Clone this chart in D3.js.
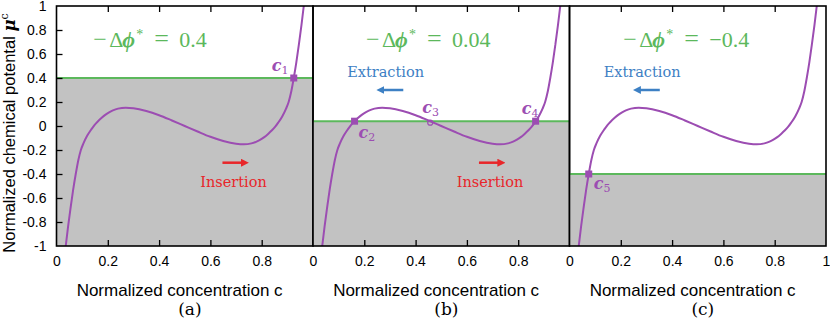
<!DOCTYPE html>
<html>
<head>
<meta charset="utf-8">
<script src="https://cdn.jsdelivr.net/npm/d3@7"></script>
<style>
  html, body { margin: 0; padding: 0; background: #fff; }
  svg { display: block; }
</style>
</head>
<body>
<svg id="chart" width="830" height="323"></svg>
<script>
// ---------------- data ----------------
const curveC  = [0.028, 0.036, 0.045, 0.055, 0.065, 0.075, 0.085, 0.095, 0.105, 0.12, 0.135, 0.148, 0.16, 0.175, 0.19, 0.205, 0.22, 0.24, 0.27, 0.30, 0.35, 0.40, 0.45, 0.50,
                 0.55, 0.60, 0.65, 0.70, 0.73, 0.76, 0.78, 0.795, 0.81, 0.825, 0.84, 0.852, 0.865, 0.88, 0.895, 0.905, 0.915, 0.925, 0.935, 0.945, 0.955, 0.964, 0.972];
const curveMu = [-1.16, -1.00, -0.84, -0.68, -0.53, -0.40, -0.285, -0.20, -0.145, -0.08, -0.03, 0.008, 0.036, 0.066, 0.093, 0.114, 0.13, 0.145, 0.153, 0.148, 0.125, 0.09, 0.046, 0.0,
                 -0.046, -0.09, -0.125, -0.148, -0.153, -0.145, -0.13, -0.114, -0.093, -0.066, -0.036, -0.008, 0.03, 0.08, 0.145, 0.20, 0.285, 0.40, 0.53, 0.68, 0.84, 1.00, 1.16];
const panelLabels = ["(a)", "(b)", "(c)"];
const potentials = [0.4, 0.04, -0.4];
const potentialTexts = ["0.4", "0.04", "\u22120.4"];
const pointNames = [["1"], ["2", "3", "4"], ["5"]];
const pointC = [[0.925], [0.162, 0.457, 0.868], [0.075]];
const pointOpen = [[false], [false, true, false], [false]];
const showInsertion = [true, true, false];
const showExtraction = [false, true, true];
const xTicks = [0, 0.2, 0.4, 0.6, 0.8];
const xTicksLast = [0, 0.2, 0.4, 0.6, 0.8, 1];
const yTicks = [-1, -0.8, -0.6, -0.4, -0.2, 0, 0.2, 0.4, 0.6, 0.8, 1];

// ---------------- layout ----------------
const svg = d3.select("#chart");
const lefts = [56.5, 313, 569.5];
const pw = 256.5;
const yTop = 6, yBottom = 246;
const y = d3.scaleLinear().domain([-1, 1]).range([yBottom, yTop]);
const purple = "#9c4db2", green = "#5cb85c", gray = "#c2c2c2", blue = "#3d80c4", red = "#e8262a";
const sans = "'Liberation Sans', Arial, sans-serif";
const serif = "'DejaVu Serif', 'Liberation Serif', serif";
const serif2 = "'Liberation Serif', 'DejaVu Serif', serif";
const annX = [0.143, 0.207, 0.21];

const defs = svg.append("defs");
function arrowMarker(id, color) {
  defs.append("marker").attr("id", id).attr("viewBox", "0 0 10 10")
    .attr("refX", 2).attr("refY", 5).attr("markerWidth", 3.2).attr("markerHeight", 3.2)
    .attr("orient", "auto")
    .append("path").attr("d", "M0,0 L10,5 L0,10 Z").attr("fill", color);
}
arrowMarker("arrRed", red);
arrowMarker("arrBlue", blue);

const curveData = curveC.map((c, i) => [c, curveMu[i]]);

lefts.forEach((L, p) => {
  const x = d3.scaleLinear().domain([0, 1]).range([L, L + pw]);
  const g = svg.append("g");
  const clipId = "clip" + p;
  defs.append("clipPath").attr("id", clipId)
    .append("rect").attr("x", x(0)).attr("y", yTop).attr("width", pw).attr("height", yBottom - yTop);

  g.append("rect")
    .attr("x", x(0)).attr("y", y(potentials[p]))
    .attr("width", pw).attr("height", y(-1) - y(potentials[p]))
    .attr("fill", gray);

  g.append("line")
    .attr("x1", x(0)).attr("x2", x(1))
    .attr("y1", y(potentials[p])).attr("y2", y(potentials[p]))
    .attr("stroke", green).attr("stroke-width", 2);

  const line = d3.line().x(d => x(d[0])).y(d => y(d[1])).curve(d3.curveMonotoneX);
  g.append("path").datum(curveData)
    .attr("clip-path", `url(#${clipId})`)
    .attr("d", line)
    .attr("fill", "none").attr("stroke", purple).attr("stroke-width", 2);

  const tickIn = [0.2, 0.4, 0.6, 0.8];
  g.append("g").attr("transform", `translate(0,${yBottom})`)
    .call(d3.axisBottom(x).tickValues(tickIn).tickSize(-6).tickFormat(""))
    .call(s => s.select(".domain").remove())
    .selectAll("line").attr("stroke", "#000").attr("stroke-width", 1.3);
  g.append("g").attr("transform", `translate(0,${yTop})`)
    .call(d3.axisTop(x).tickValues(tickIn).tickSize(-6).tickFormat(""))
    .call(s => s.select(".domain").remove())
    .selectAll("line").attr("stroke", "#000").attr("stroke-width", 1.3);

  const xl = g.append("g").attr("transform", `translate(0,${yBottom})`)
    .call(d3.axisBottom(x).tickValues(p === 2 ? xTicksLast : xTicks).tickSize(0).tickPadding(10)
      .tickFormat(d => String(+d.toFixed(1))));
  xl.select(".domain").remove();
  xl.selectAll("text").attr("font-family", sans).attr("font-size", 14).attr("fill", "#000");

  g.append("text").attr("x", x(0.48)).attr("y", 296)
    .attr("text-anchor", "middle").attr("font-family", sans).attr("font-size", 17)
    .text("Normalized concentration c");
  g.append("text").attr("x", x(0.52)).attr("y", 315)
    .attr("text-anchor", "middle").attr("font-family", serif).attr("font-size", 17)
    .text(panelLabels[p]);

  g.append("rect").attr("x", x(0)).attr("y", yTop).attr("width", pw).attr("height", yBottom - yTop)
    .attr("fill", "none").attr("stroke", "#000").attr("stroke-width", 1.6);

  // annotation −Δφ* = value, pieces placed like typeset math
  const ax = x(annX[p]);
  const ann = g.append("text").attr("y", 47)
    .attr("font-family", serif2).attr("font-size", 22).attr("fill", green);
  ann.append("tspan").attr("x", ax).attr("font-size", 24).text("\u2212");
  ann.append("tspan").attr("x", ax + 16).text("\u0394");
  ann.append("tspan").attr("x", ax + 29).attr("font-style", "italic").attr("font-weight", "bold").text("\u03d5");
  ann.append("tspan").attr("x", ax + 43).attr("dy", -8).attr("font-size", 14).text("*");
  ann.append("tspan").attr("x", ax + 61).attr("dy", 8).attr("font-size", 26).text("=");
  ann.append("tspan").attr("x", ax + 86).text(potentialTexts[p]);

  if (showInsertion[p]) {
    g.append("line").attr("x1", x(0.647)).attr("x2", x(0.725))
      .attr("y1", 162.7).attr("y2", 162.7)
      .attr("stroke", red).attr("stroke-width", 2.5).attr("marker-end", "url(#arrRed)");
    g.append("text").attr("x", x(0.69)).attr("y", 187).attr("text-anchor", "middle")
      .attr("font-family", serif).attr("font-size", 14.5).attr("fill", red).text("Insertion");
  }
  if (showExtraction[p]) {
    g.append("line").attr("x1", x(0.352)).attr("x2", x(0.272))
      .attr("y1", 90).attr("y2", 90)
      .attr("stroke", blue).attr("stroke-width", 2.5).attr("marker-end", "url(#arrBlue)");
    g.append("text").attr("x", x(0.283)).attr("y", 77).attr("text-anchor", "middle")
      .attr("font-family", serif).attr("font-size", 14.5).attr("fill", blue).text("Extraction");
  }

  pointC[p].forEach((c, i) => {
    const px = x(c), py = y(potentials[p]);
    if (pointOpen[p][i]) {
      g.append("circle").attr("cx", px).attr("cy", py + 1.5).attr("r", 2.5)
        .attr("fill", "none").attr("stroke", purple).attr("stroke-width", 1.2);
    } else {
      g.append("rect").attr("x", px - 3.5).attr("y", py - 3.5).attr("width", 7).attr("height", 7)
        .attr("fill", purple);
    }
    const name = pointNames[p][i];
    let tx, ty;
    if (name === "1") { tx = px - 22; ty = py - 7; }
    else if (name === "2") { tx = px + 4; ty = py + 17; }
    else if (name === "3") { tx = px - 8; ty = py - 8; }
    else if (name === "4") { tx = px - 14; ty = py - 7; }
    else { tx = px + 5; ty = py + 15; }
    const t = g.append("text").attr("x", tx).attr("y", ty)
      .attr("font-family", serif).attr("fill", purple);
    t.append("tspan").attr("font-size", 16).attr("font-style", "italic").attr("font-weight", "bold").text("c");
    t.append("tspan").attr("font-size", 11).attr("dy", 3).text(name);
  });
});

const ya = svg.append("g").attr("transform", `translate(${lefts[0]},0)`)
  .call(d3.axisLeft(y).tickValues(yTicks).tickSize(0).tickPadding(10)
    .tickFormat(d => String(+d.toFixed(1))));
ya.select(".domain").remove();
ya.selectAll("text").attr("font-family", sans).attr("font-size", 14).attr("fill", "#000");
svg.append("g").attr("transform", `translate(${lefts[0]},0)`)
  .call(d3.axisLeft(y).tickValues(yTicks.slice(1, -1)).tickSize(-6).tickFormat(""))
  .call(s => s.select(".domain").remove())
  .selectAll("line").attr("stroke", "#000").attr("stroke-width", 1.3);

const yt = svg.append("text")
  .attr("transform", `translate(15,${133}) rotate(-90)`)
  .attr("text-anchor", "middle").attr("font-family", sans).attr("font-size", 16.5);
yt.append("tspan").text("Normalized chemical potental ");
yt.append("tspan").attr("font-family", serif).attr("font-style", "italic").attr("font-weight", "bold").text("\u03bc");
yt.append("tspan").attr("font-family", serif).attr("font-size", 11).attr("dy", -7).text("c");
</script>
</body>
</html>
